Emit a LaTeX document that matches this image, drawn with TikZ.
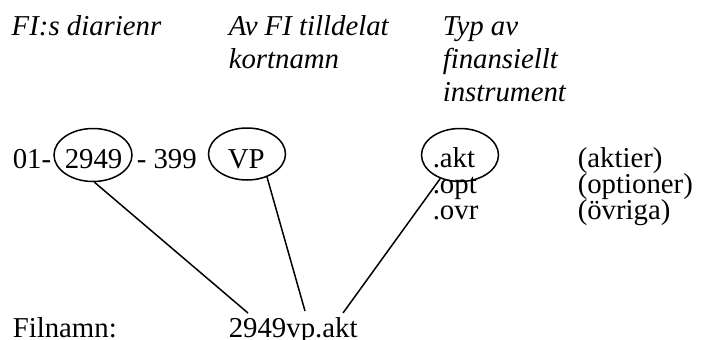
\documentclass[tikz,border=0pt]{standalone}
\usepackage{fontspec}
\setmainfont{Liberation Serif}
\usetikzlibrary{shapes.geometric}

\begin{document}
\begin{tikzpicture}[x=1pt, y=-1pt, line width=1.5pt,
    every node/.style={inner sep=0pt, font=\fontsize{28.8}{33}\selectfont},
    txt/.style={anchor=base west},
    rubrik/.style={anchor=base west, align=left, font=\fontsize{28.8}{33}\selectfont\itshape},
    ring/.style={draw, ellipse, minimum width=78pt, minimum height=53pt}]
    \useasboundingbox (0,0) rectangle (705,340);

    % rubriker (ankaret sitter på sista raden)
    \node[rubrik] (nrrubrik) at (11,35) {FI:s diarienr};
    \node[rubrik] (kortrubrik) at (228,68) {Av FI tilldelat\\kortnamn};
    \node[rubrik] (typrubrik) at (442,101) {Typ av\\finansiellt\\instrument};

    % diarienummer och kortnamn
    \node[txt] (nr01) at (12,168) {01-};
    \node[txt] (nr2949) at (64,168) {2949};
    \node[txt] (nr399) at (136,168) {- 399};
    \node[txt] (kortVP) at (227,168) {VP};

    % typer av instrument
    \node[txt] (typakt) at (432,167) {.akt};
    \node[txt] (typopt) at (432,193) {.opt};
    \node[txt] (typovr) at (432,219) {.ovr};
    \node[txt] (namnakt) at (577,167) {(aktier)};
    \node[txt] (namnopt) at (577,193) {(optioner)};
    \node[txt] (namnovr) at (577,219) {(övriga)};

    % ringar
    \node[ring] (ring2949) at (93,155) {};
    \node[ring, minimum width=77pt, minimum height=52pt] (ringVP) at (247,154) {};
    \node[ring, minimum width=77pt] (ringakt) at (460,155) {};

    % filnamn
    \node[txt] (filnamn) at (12,337) {Filnamn:};
    \node[txt] (exempel) at (228,337) {2949vp.akt};
    \coordinate (slut2949) at (248,313);
    \coordinate (slutVP) at (305,311);
    \coordinate (slutakt) at (343,313);

    \draw (ring2949.-87) -- (slut2949);
    \draw (ringVP.-49) -- (slutVP);
    \draw (ringakt.-130) -- (slutakt);
\end{tikzpicture}
\end{document}
